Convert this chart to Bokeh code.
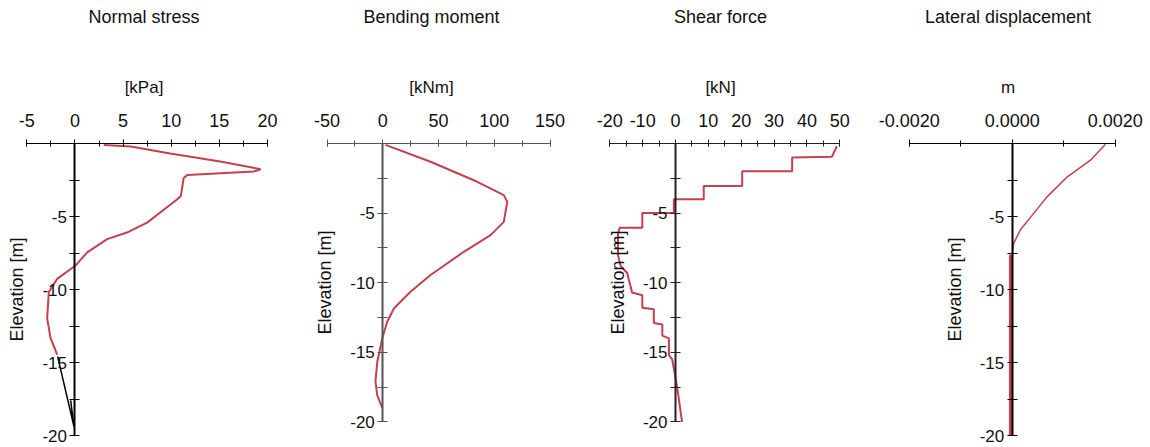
from bokeh.plotting import figure
from bokeh.layouts import row
from bokeh.models import (Range1d, LinearAxis, SingleIntervalTicker, FixedTicker,
                          PrintfTickFormatter)
from bokeh.embed import file_html
from bokeh.resources import INLINE

# ---------------- data ----------------
titles = ["Normal stress", "Bending moment", "Shear force", "Lateral displacement"]
units = ["[kPa]", "[kNm]", "[kN]", "m"]

stress_x = [3.0, 5.8, 9.9, 15.1, 19.3, 18.6, 15.1, 11.7, 11.3, 11.0, 10.6, 7.5, 5.4, 3.35,
            1.27, 0.05, -1.85, -2.72, -2.89, -2.55, -1.85]
stress_y = [-0.1, -0.2, -0.68, -1.24, -1.76, -1.92, -2.03, -2.15, -2.37, -3.6, -3.84, -5.42,
            -6.1, -6.55, -7.46, -8.36, -9.27, -10.17, -11.98, -13.3, -14.46]
stress_tail_x = [-1.8, -0.1, -0.45]
stress_tail_y = [-14.6, -19.4, -17.6]

moment_x = [2.4, 42.8, 84.7, 108.5, 111.6, 108.5, 96.6, 72.6, 42.8, 24.8, 9.9, 3.9, -0.5,
            -5.0, -6.6, -5.0, -0.5]
moment_y = [-0.1, -1.31, -2.75, -3.71, -4.19, -5.63, -6.58, -7.78, -9.45, -10.65, -11.85,
            -12.8, -14.0, -15.7, -17.1, -18.1, -19.0]

shear_x = [49.1, 47.6, 35.5, 35.5, 20.3, 20.3, 8.6, 8.6, -0.5, -0.5, -10.1, -10.1, -17.0,
           -17.5, -17.5, -16.7, -14.7, -13.2, -10.1, -10.1, -6.6, -6.6, -4.0, -4.0, -2.0,
           -2.0, -1.0, 0.5, 2.0]
shear_y = [-0.2, -0.95, -1.0, -2.0, -2.0, -3.05, -3.05, -4.0, -4.0, -5.0, -5.0, -6.05, -6.05,
           -6.5, -8.0, -8.8, -9.3, -10.7, -10.9, -11.8, -11.9, -12.9, -13.0, -13.8, -14.0,
           -15.2, -15.5, -17.5, -20.0]

disp_x = [0.00181, 0.00152, 0.00107, 0.00068, 0.00042, 0.00016, 0.00003, 0.0]
disp_y = [-0.05, -1.14, -2.28, -3.64, -4.77, -5.91, -6.82, -7.5]
disp_low_x = [-0.00003, -0.00003]
disp_low_y = [-7.6, -20.0]

y_ticks = [-20, -15, -10, -5]
y_minor = [-17.5, -12.5, -7.5, -2.5]

FONT = "Liberation Sans"
LINE = "#c4404f"
TXT = "#111111"


def make_panel(title, unit, width, x_start, x_end, top, px_per_m, x_bounds, x_interval,
               x_fmt, axis_color):
    frame_h = 447 - top
    p = figure(frame_width=width, frame_height=frame_h,
               x_range=Range1d(x_start, x_end),
               y_range=Range1d(-frame_h / px_per_m, 0),
               x_axis_location="above", output_backend="svg", toolbar_location=None,
               min_border_left=0, min_border_right=0, min_border_bottom=0,
               min_border_top=top, title=None)
    p.grid.visible = False
    p.outline_line_color = None

    xa = p.xaxis[0]
    xa.bounds = x_bounds
    xa.ticker = SingleIntervalTicker(interval=x_interval, num_minor_ticks=2)
    xa.formatter = PrintfTickFormatter(format=x_fmt)
    xa.axis_label = unit
    xa.axis_line_color = axis_color
    xa.major_tick_line_color = axis_color
    xa.minor_tick_line_color = axis_color
    xa.major_tick_in = 3
    xa.major_tick_out = 4
    xa.minor_tick_in = 3
    xa.minor_tick_out = 3
    xa.major_label_standoff = 13
    xa.axis_label_standoff = 14
    xa.major_label_text_font = FONT
    xa.major_label_text_font_size = "18px"
    xa.major_label_text_color = TXT
    xa.axis_label_text_font = FONT
    xa.axis_label_text_font_size = "17px"
    xa.axis_label_text_font_style = "normal"
    xa.axis_label_text_color = TXT

    ya = p.yaxis[0]
    ya.fixed_location = 0
    ya.bounds = (-20, 0)
    ya.ticker = FixedTicker(ticks=y_ticks, minor_ticks=y_minor)
    ya.formatter = PrintfTickFormatter(format="%d")
    ya.axis_label = "Elevation [m]"
    ya.axis_line_color = axis_color
    ya.axis_line_width = 2
    ya.major_tick_line_color = axis_color
    ya.minor_tick_line_color = axis_color
    ya.major_tick_in = 5
    ya.major_tick_out = 5
    ya.minor_tick_in = 5
    ya.minor_tick_out = 5
    ya.major_label_standoff = 3
    ya.axis_label_standoff = 12
    ya.major_label_text_font = FONT
    ya.major_label_text_font_size = "17px"
    ya.major_label_text_color = TXT
    ya.axis_label_text_font = FONT
    ya.axis_label_text_font_size = "18px"
    ya.axis_label_text_font_style = "normal"
    ya.axis_label_text_color = TXT

    ta = LinearAxis(axis_label=title, ticker=FixedTicker(ticks=[]), bounds=x_bounds,
                    axis_line_color=None, major_tick_in=0, major_tick_out=0,
                    minor_tick_in=0, minor_tick_out=0, major_label_text_font_size="0px",
                    axis_label_standoff=48, axis_label_text_font=FONT,
                    axis_label_text_font_size="18px", axis_label_text_font_style="normal",
                    axis_label_text_color=TXT)
    p.add_layout(ta, "above")
    return p


p1 = make_panel(titles[0], units[0], 287, -7.74, 22.09, 140, 14.6, (-5, 20), 5, "%d", "black")
p1.line(stress_x, stress_y, line_color=LINE, line_width=2)
p1.line(stress_tail_x, stress_tail_y, line_color="black", line_width=1.5)

p2 = make_panel(titles[1], units[1], 288, -85.5, 172.8, 142, 13.92, (-50, 150), 50, "%d", "#555555")
p2.line(moment_x, moment_y, line_color=LINE, line_width=2)

p3 = make_panel(titles[2], units[2], 290, -30.43, 57.82, 140, 13.92, (-20, 50), 10, "%d", "#222222")
p3.line(shear_x, shear_y, line_color=LINE, line_width=2)

p4 = make_panel(titles[3], units[3], 285, -0.002849, 0.002685, 143, 14.6, (-0.002, 0.002), 0.002,
                "%.4f", "black")
p4.line(disp_x, disp_y, line_color=LINE, line_width=1.5)
p4.line(disp_low_x, disp_low_y, line_color=LINE, line_width=3.5)

layout = row(p1, p2, p3, p4, spacing=0)
open("out.html", "w").write(file_html(layout, INLINE))
